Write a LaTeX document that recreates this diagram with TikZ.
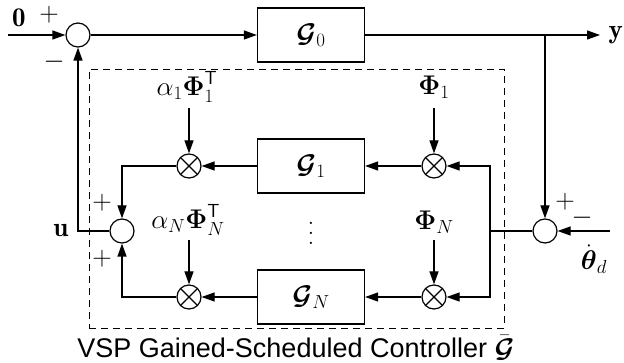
\RequirePackage{fix-cm}
\documentclass[tikz,border=0pt]{standalone}
\usepackage{amsmath,amssymb}
\usepackage{fontspec}
\newfontfamily\capfont{Liberation Sans}
\usetikzlibrary{arrows.meta}
\newcommand{\bigvdots}{\vbox{\baselineskip=10pt\lineskiplimit=0pt\hbox{.}\hbox{.}\hbox{.}}}
\begin{document}
\begin{tikzpicture}[x=1pt,y=-1pt,
  font=\fontsize{27}{31}\selectfont,
  line width=1.2pt,
  >={Triangle[length=13pt,width=9pt]},
  sumnode/.style={circle,draw,minimum size=24pt,inner sep=0pt},
  multnode/.style={sumnode,path picture={
      \draw (path picture bounding box.south west)--(path picture bounding box.north east)
            (path picture bounding box.north west)--(path picture bounding box.south east);}},
  blockbox/.style={draw,minimum width=107pt,minimum height=54pt,inner sep=0pt},
  lbl/.style={inner sep=0pt},
  ctrlbox/.style={draw,dashed,dash pattern=on 7pt off 5pt,line width=0.9pt}]
\useasboundingbox (0,0) rectangle (624,363);
% top loop
\node[sumnode] (s0) at (78,35) {};
\coordinate (in) at (8,35);
\node[lbl] (zero) at (19,18) {$\mathbf{0}$};
\node[lbl] (p0) at (49,15) {$+$};
\node[lbl] (m0) at (54,62) {$-$};
\node[blockbox] (g0) at (311,35) {$\boldsymbol{\mathcal{G}}_0$};
\coordinate (yout) at (600,35);
\node[lbl,anchor=west] (ylab) at (608,35) {$\mathbf{y}$};
\coordinate (br) at (545,35);
% error sum
\node[sumnode] (s2) at (545,231) {};
\coordinate (thin) at (610,231);
\node[lbl] (thl) at (594,259) {$\dot{\boldsymbol{\theta}}_d$};
\node[lbl] (p2) at (565,202) {$+$};
\node[lbl] (m2) at (582,218) {$-$};
\coordinate (j) at (490,231);
% controller
\node[ctrlbox,minimum width=415pt,minimum height=259pt,inner sep=0pt] (ctrl) at (296.5,198.5) {};
\node[multnode] (mr1) at (434,166) {};
\node[multnode] (mrN) at (434,297) {};
\node[multnode] (ml1) at (189,166) {};
\node[multnode] (mlN) at (189,297) {};
\node[blockbox] (g1) at (311,166) {$\boldsymbol{\mathcal{G}}_1$};
\node[blockbox] (gN) at (311,297) {$\boldsymbol{\mathcal{G}}_N$};
\node[lbl] (phi1) at (434,87) {$\boldsymbol{\Phi}_1$};
\node[lbl] (phiN) at (434,222) {$\boldsymbol{\Phi}_N$};
\node[lbl] (al1) at (187,87) {$\alpha_1\boldsymbol{\Phi}_1^{\mathsf{T}}$};
\node[lbl] (alN) at (188,220) {$\alpha_N\boldsymbol{\Phi}_N^{\mathsf{T}}$};
\coordinate (a1) at (434,108);
\coordinate (aN) at (434,240);
\coordinate (b1) at (189,108);
\coordinate (bN) at (189,240);
\node[lbl] (dots) at (311,233) {\bigvdots};
\node[sumnode] (su) at (122,231) {};
\node[lbl] (pu1) at (102,203) {$+$};
\node[lbl] (pu2) at (102,259) {$+$};
\node[lbl] (ulab) at (61,231) {$\mathbf{u}$};
\node[lbl] (cap) at (296,347.5) {\capfont\fontsize{27}{30}\selectfont VSP Gained-Scheduled Controller $\bar{\boldsymbol{\mathcal{G}}}$};
% connectors
\draw[->] (in) -- (s0);
\draw[->] (s0) -- (g0);
\draw[->] (g0) -- (yout);
\draw[->] (br) -- (s2);
\draw[->] (thin) -- (s2);
\draw (s2) -- (j);
\draw[->] (j) |- (mr1);
\draw[->] (j) |- (mrN);
\draw[->] (mr1) -- (g1);
\draw[->] (mrN) -- (gN);
\draw[->] (g1) -- (ml1);
\draw[->] (gN) -- (mlN);
\draw[->] (a1) -- (mr1);
\draw[->] (aN) -- (mrN);
\draw[->] (b1) -- (ml1);
\draw[->] (bN) -- (mlN);
\draw[->] (ml1) -| (su);
\draw[->] (mlN) -| (su);
\draw[->] (su) -| (s0);
\end{tikzpicture}
\end{document}
